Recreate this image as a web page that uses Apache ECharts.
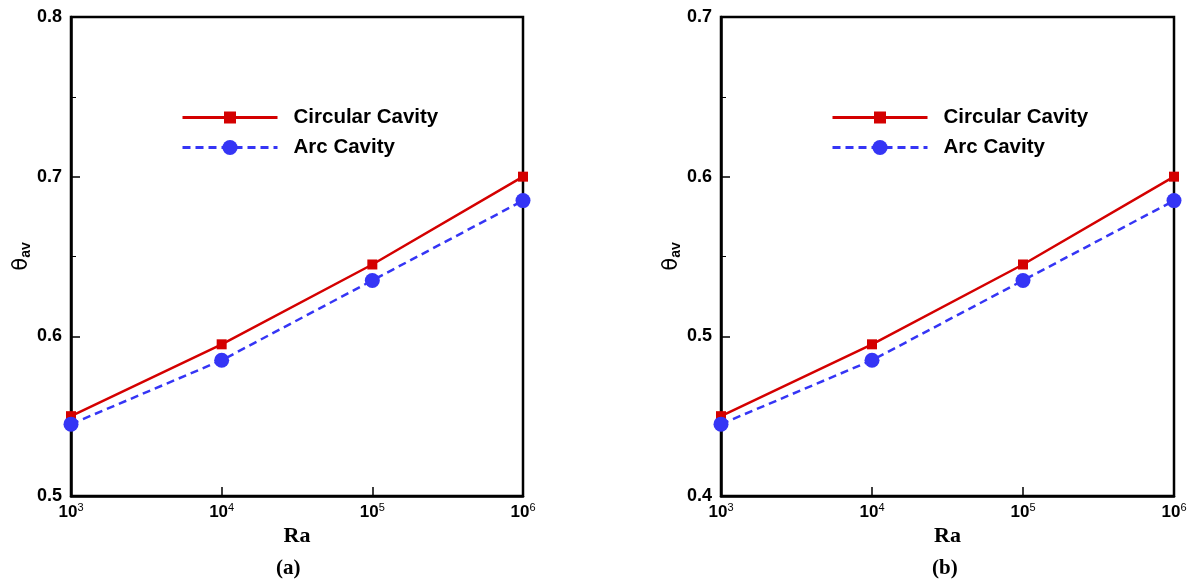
<!DOCTYPE html>
<html><head><meta charset="utf-8">
<script src="https://cdn.jsdelivr.net/npm/echarts@6/dist/echarts.min.js"></script>
<style>html,body{margin:0;padding:0;background:#fff}#c{width:1192px;height:585px}</style>
</head><body><div id="c"></div>
<script>
const raValues = [1e3, 1e4, 1e5, 1e6];
const circularA = [0.55, 0.595, 0.645, 0.70];
const arcA = [0.545, 0.585, 0.635, 0.685];
const circularB = [0.45, 0.495, 0.545, 0.60];
const arcB = [0.445, 0.485, 0.535, 0.585];
const yRangeA = [0.5, 0.8];
const yRangeB = [0.4, 0.7];
const panelLabels = ['(a)', '(b)'];
const seriesNames = ['Circular Cavity', 'Arc Cavity'];

const RED = '#d40000', BLUE = '#3535f5';
const chart = echarts.init(document.getElementById('c'));
const pair = (xs, ys) => xs.map((x, i) => [x, ys[i]]);
const grids = [
  {left: 71, top: 17, width: 452, height: 479},
  {left: 721, top: 17, width: 453, height: 479}
];
function xAxis(i){
  return {
    type: 'log', gridIndex: i, min: 1e3, max: 1e6, logBase: 10,
    axisLine: {lineStyle: {color: '#000', width: 2.5}},
    axisTick: {inside: true, length: 9, lineStyle: {color: '#000', width: 1.5}},
    minorTick: {show: false}, splitLine: {show: false},
    name: 'Ra', nameLocation: 'middle', nameGap: 22,
    nameTextStyle: {fontFamily: 'Liberation Serif', fontWeight: 'bold', fontSize: 22, color: '#000'},
    axisLabel: {
      margin: 6, color: '#000',
      formatter: v => '{b|10}{s|' + Math.round(Math.log10(v)) + '}',
      rich: {
        b: {fontFamily: 'Liberation Sans', fontWeight: 'bold', fontSize: 17, color: '#000'},
        s: {fontFamily: 'Liberation Sans', fontSize: 11, color: '#000', verticalAlign: 'top', padding: [0,0,9,0]}
      }
    }
  };
}
function yAxis(i, r){
  return {
    type: 'value', gridIndex: i, min: r[0], max: r[1], interval: 0.1,
    axisLine: {show: true, lineStyle: {color: '#000', width: 2.5}},
    axisTick: {inside: true, length: 9, lineStyle: {color: '#000', width: 1.5}},
    minorTick: {show: true, splitNumber: 2, length: 5, lineStyle: {color: '#000', width: 1}},
    splitLine: {show: false},
    axisLabel: {margin: 9, color: '#000', fontFamily: 'Liberation Sans', fontWeight: 'bold', fontSize: 18,
      formatter: v => v.toFixed(1)},
    name: '{t|θ}{s|av}', nameLocation: 'middle', nameGap: 38, nameRotate: 90,
    nameTextStyle: {rich: {
      t: {fontFamily: 'DejaVu Sans', fontSize: 21, color: '#000'},
      s: {fontFamily: 'Liberation Sans', fontWeight: 'bold', fontSize: 14, color: '#000', verticalAlign: 'bottom', padding: [8,0,0,0]}
    }}
  };
}
function mk(name, data, i, isArc){
  return {
    name, type: 'line', xAxisIndex: i, yAxisIndex: i, data,
    symbol: isArc ? 'circle' : 'rect', symbolSize: isArc ? 15 : 10,
    showSymbol: true, clip: false, z: isArc ? 3 : 2,
    lineStyle: {color: isArc ? BLUE : RED, width: 2.5, type: isArc ? [8, 5] : 'solid'},
    itemStyle: {color: isArc ? BLUE : RED},
    emphasis: {disabled: true}, animation: false
  };
}
function legend(left, top, name, h){
  return {
    left, top, orient: 'vertical', itemWidth: 95, itemHeight: h, itemGap: 0,
    selectedMode: false, data: [name],
    lineStyle: {width: 3},
    textStyle: {fontFamily: 'Liberation Sans', fontWeight: 'bold', fontSize: 20.5, color: '#000', padding: [0,0,0,11]}
  };
}
chart.setOption({
  backgroundColor: '#fff',
  animation: false,
  grid: grids.map(g => Object.assign({show: true, borderColor: '#000', borderWidth: 2.5}, g)),
  xAxis: [xAxis(0), xAxis(1)],
  yAxis: [yAxis(0, yRangeA), yAxis(1, yRangeB)],
  legend: [
    legend(176, 102, seriesNames[0], 15), legend(176, 132, seriesNames[1], 19),
    legend(826, 102, seriesNames[0], 15), legend(826, 132, seriesNames[1], 19)
  ],
  series: [
    mk(seriesNames[0], pair(raValues, circularA), 0, false),
    mk(seriesNames[1], pair(raValues, arcA), 0, true),
    mk(seriesNames[0], pair(raValues, circularB), 1, false),
    mk(seriesNames[1], pair(raValues, arcB), 1, true)
  ],
  graphic: [
    {type: 'text', left: 276, top: 558, style: {text: panelLabels[0], fontFamily: 'Liberation Serif', fontWeight: 'bold', fontSize: 21, fill: '#000'}},
    {type: 'text', left: 932, top: 558, style: {text: panelLabels[1], fontFamily: 'Liberation Serif', fontWeight: 'bold', fontSize: 21, fill: '#000'}}
  ]
});
</script></body></html>
